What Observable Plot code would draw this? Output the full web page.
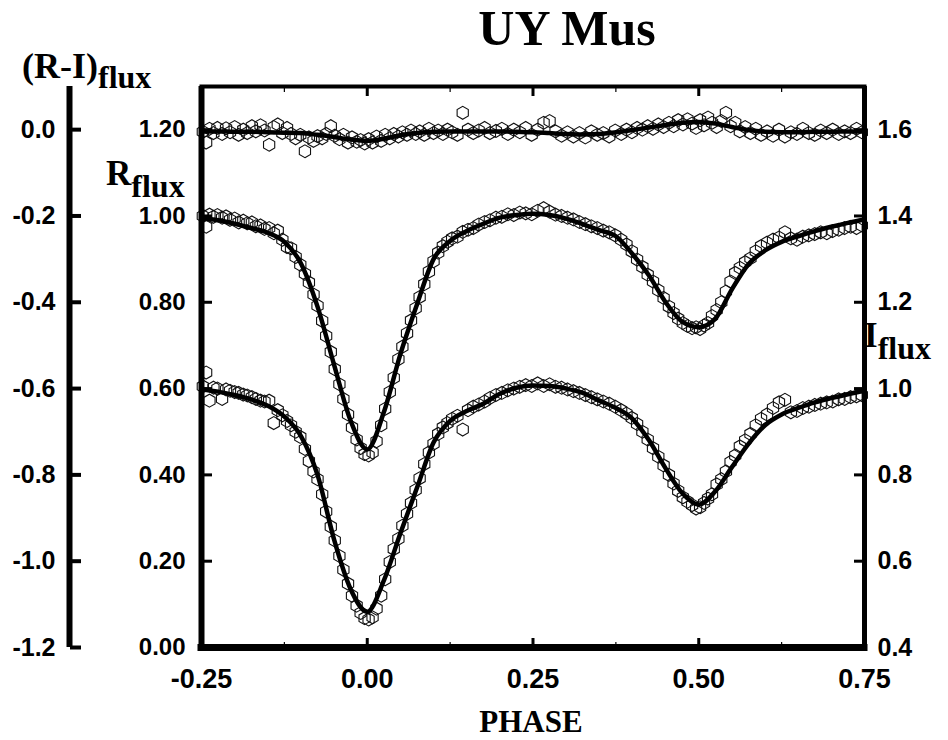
<!DOCTYPE html>
<html><head><meta charset="utf-8">
<script src="https://cdn.jsdelivr.net/npm/d3@7"></script>
<script src="https://cdn.jsdelivr.net/npm/@observablehq/plot@0.6"></script>
<style>body{margin:0;background:#fff}</style>
</head><body><div id="chart"></div>
<script>
// ---- observations (phase, R flux, I flux, R-I flux) ----
const phase = [
-0.248,-0.243,-0.238,-0.232,-0.226,-0.219,-0.213,-0.207,-0.200,-0.194,
-0.187,-0.181,-0.174,-0.168,-0.161,-0.155,-0.148,-0.141,-0.135,-0.128,
-0.121,-0.115,-0.108,-0.101,-0.094,-0.088,-0.081,-0.075,-0.068,-0.062,
-0.055,-0.049,-0.042,-0.036,-0.029,-0.023,-0.016,-0.010,-0.004,0.002,
0.008,0.014,0.021,0.027,0.034,0.040,0.047,0.053,0.060,0.066,
0.073,0.079,0.086,0.093,0.100,0.107,0.114,0.121,0.128,0.136,
0.144,0.152,0.160,0.168,0.177,0.185,0.194,0.203,0.212,0.221,
0.230,0.239,0.248,0.257,0.266,0.275,0.284,0.293,0.302,0.311,
0.320,0.329,0.338,0.347,0.356,0.365,0.374,0.383,0.391,0.399,
0.407,0.415,0.423,0.431,0.439,0.447,0.455,0.462,0.469,0.476,
0.483,0.490,0.496,0.502,0.508,0.514,0.520,0.527,0.534,0.541,
0.548,0.555,0.562,0.570,0.578,0.586,0.594,0.603,0.612,0.621,
0.630,0.639,0.648,0.657,0.666,0.675,0.684,0.693,0.702,0.711,
0.720,0.729,0.738,0.746];
const rObs = [
1.000,0.975,1.003,0.998,1.002,0.996,0.999,0.991,0.994,0.985,
0.989,0.983,0.985,0.976,0.978,0.970,0.972,0.960,0.966,0.945,
0.928,0.925,0.905,0.887,0.866,0.846,0.818,0.792,0.757,0.722,
0.685,0.645,0.610,0.576,0.540,0.510,0.482,0.462,0.448,0.445,
0.452,0.478,0.515,0.553,0.592,0.625,0.668,0.697,0.728,0.758,
0.786,0.812,0.842,0.871,0.895,0.915,0.930,0.940,0.948,0.952,
0.963,0.968,0.972,0.980,0.986,0.990,0.996,0.998,1.004,1.002,
1.008,1.006,1.004,1.012,1.018,1.010,1.003,1.000,0.996,0.992,
0.986,0.981,0.976,0.972,0.966,0.962,0.955,0.945,0.934,0.918,
0.899,0.882,0.864,0.848,0.828,0.810,0.790,0.775,0.762,0.752,
0.745,0.740,0.742,0.738,0.746,0.752,0.768,0.782,0.800,0.825,
0.848,0.868,0.880,0.893,0.902,0.918,0.930,0.938,0.945,0.950,
0.962,0.948,0.945,0.952,0.955,0.958,0.962,0.960,0.965,0.968,
0.972,0.975,0.972,0.978];
const iObs = [
1.005,1.037,0.972,1.002,1.000,0.976,0.998,0.995,0.992,0.990,
0.986,0.984,0.980,0.976,0.972,0.970,0.972,0.920,0.950,0.938,
0.925,0.915,0.900,0.888,0.860,0.832,0.808,0.790,0.755,0.715,
0.680,0.648,0.612,0.580,0.548,0.520,0.497,0.480,0.468,0.465,
0.470,0.490,0.520,0.558,0.598,0.628,0.652,0.682,0.710,0.735,
0.765,0.792,0.825,0.852,0.872,0.895,0.910,0.920,0.930,0.937,
0.905,0.950,0.958,0.963,0.970,0.978,0.985,0.990,0.996,1.000,
1.004,1.008,1.006,1.012,1.006,1.010,1.004,1.002,0.998,0.994,
0.990,0.985,0.980,0.975,0.970,0.965,0.958,0.950,0.942,0.932,
0.918,0.900,0.882,0.862,0.842,0.822,0.800,0.780,0.763,0.748,
0.738,0.730,0.722,0.725,0.735,0.745,0.755,0.778,0.790,0.808,
0.830,0.845,0.866,0.880,0.895,0.915,0.930,0.940,0.955,0.968,
0.974,0.945,0.948,0.955,0.958,0.962,0.965,0.968,0.970,0.975,
0.976,0.980,0.982,0.985];
const riObs = [
-0.005,-0.030,0.002,-0.008,0.004,-0.010,0.003,-0.006,0.006,-0.012,
0.000,-0.008,0.008,-0.004,0.010,-0.002,-0.035,0.006,0.012,-0.008,
0.004,-0.010,-0.020,-0.012,-0.050,-0.018,-0.026,-0.015,-0.020,-0.010,
0.008,-0.014,-0.022,-0.012,-0.030,-0.018,-0.028,-0.024,-0.032,-0.022,
-0.030,-0.016,-0.026,-0.012,-0.020,-0.010,-0.016,-0.006,-0.012,-0.002,
-0.010,-0.004,-0.012,0.002,-0.008,-0.002,-0.010,0.000,-0.006,-0.012,
0.039,0.000,-0.008,-0.002,0.004,-0.008,-0.003,0.002,-0.010,0.000,
-0.006,0.004,-0.012,0.000,0.016,0.020,-0.004,-0.014,-0.006,-0.016,
-0.008,-0.018,-0.004,-0.012,-0.008,-0.016,-0.002,-0.010,0.000,-0.006,
0.004,0.000,0.008,0.002,0.012,0.006,0.016,0.008,0.022,0.012,
0.024,0.014,0.004,0.022,0.010,0.028,0.016,0.006,0.020,0.039,
0.008,0.016,-0.004,0.006,-0.008,0.002,-0.012,-0.004,-0.014,0.000,
-0.016,-0.006,-0.010,0.002,-0.008,-0.012,-0.002,-0.008,0.000,-0.010,
-0.004,-0.008,0.002,-0.006];

// ---- fitted light curves ----
const fitPhase = [-0.250,-0.225,-0.200,-0.175,-0.150,-0.125,-0.100,-0.075,-0.050,-0.025,
0.000,0.025,0.050,0.075,0.100,0.125,0.150,0.175,0.200,0.225,
0.250,0.275,0.300,0.325,0.350,0.375,0.400,0.425,0.450,0.475,
0.500,0.525,0.550,0.575,0.600,0.625,0.650,0.675,0.700,0.725,0.750];
const rFit = [0.994,0.990,0.982,0.972,0.961,0.940,0.890,0.790,0.655,0.525,
0.459,0.545,0.680,0.795,0.900,0.942,0.965,0.982,0.996,1.002,
1.005,1.002,0.994,0.981,0.967,0.953,0.912,0.862,0.800,0.755,
0.742,0.762,0.830,0.888,0.920,0.940,0.953,0.965,0.975,0.984,0.992];
const iFit = [0.998,0.993,0.985,0.975,0.960,0.935,0.890,0.800,0.650,0.535,
0.483,0.555,0.665,0.770,0.875,0.925,0.948,0.965,0.988,1.002,
1.007,1.006,1.000,0.990,0.972,0.955,0.930,0.880,0.815,0.758,
0.731,0.762,0.818,0.872,0.915,0.940,0.955,0.968,0.978,0.987,0.995];
const riFit = [-0.004,-0.004,-0.005,-0.005,-0.006,-0.007,-0.008,-0.012,-0.017,-0.023,
-0.026,-0.021,-0.013,-0.008,-0.005,-0.004,-0.004,-0.004,-0.004,-0.005,
-0.006,-0.008,-0.010,-0.011,-0.010,-0.006,-0.001,0.005,0.011,0.016,
0.018,0.014,0.006,-0.001,-0.005,-0.006,-0.006,-0.005,-0.005,-0.004,-0.004];

// ---- ticks ----
const xMajor = [-0.25, 0, 0.25, 0.5, 0.75];
const xMinor = [-0.125, 0.125, 0.375, 0.625];
const rTicks = [0, 0.2, 0.4, 0.6, 0.8, 1.0, 1.2];
const iTicks = [0.4, 0.6, 0.8, 1.0, 1.2, 1.4, 1.6];
const riTicks = [-1.2, -1.0, -0.8, -0.6, -0.4, -0.2, 0.0];
const I_OFFSET = 0.4;   // I axis = R axis + 0.4
const RI_OFFSET = 1.2;  // (R-I) axis = R axis - 1.2

const obs = phase.map((p, i) => ({phase: p, R: rObs[i], I: iObs[i], RI: riObs[i]}));
const fit = fitPhase.map((p, i) => ({phase: p, R: rFit[i], I: iFit[i], RI: riFit[i]}));

const W = 663, H = 561, OUT = 132;
const dotOpts = {x: "phase", symbol: "hexagon", r: 5.6, stroke: "#111", strokeWidth: 1.1, fill: "none"};
const lineOpts = {x: "phase", stroke: "black", strokeWidth: 4.5, curve: "monotone-x"};
const blank = () => "";

const chart = Plot.plot({
  width: 948, height: 740,
  marginLeft: 201, marginRight: 84, marginTop: 86, marginBottom: 93,
  x: {domain: [-0.25, 0.75], label: null},
  y: {domain: [0, 1.3], label: null},
  style: {background: "white", color: "black", fontFamily: "'Liberation Sans', Arial, sans-serif", fontWeight: "bold", overflow: "visible"},
  marks: [
    Plot.dot(obs, {...dotOpts, y: "R"}),
    Plot.dot(obs, {...dotOpts, y: d => d.I - I_OFFSET}),
    Plot.dot(obs, {...dotOpts, y: d => d.RI + RI_OFFSET}),
    Plot.line(fit, {...lineOpts, y: "R"}),
    Plot.line(fit, {...lineOpts, y: d => d.I - I_OFFSET}),
    Plot.line(fit, {...lineOpts, y: d => d.RI + RI_OFFSET}),
    Plot.frame({strokeWidth: 4}),
    Plot.ruleX([-0.25], {strokeWidth: 6}),
    Plot.ruleX([0.75], {strokeWidth: 5}),
    Plot.ruleY([0], {strokeWidth: 7, strokeLinecap: "square"}),
    Plot.ruleX([-0.25], {dx: -OUT, strokeWidth: 6}),
    // x axis
    Plot.axisX(xMajor, {anchor: "bottom", tickSize: 0, tickPadding: 21, tickFormat: d => d.toFixed(2), fontSize: 27, label: null}),
    Plot.axisX(xMajor, {anchor: "top", dy: H, tickSize: 10, strokeWidth: 3, tickFormat: blank, label: null}),
    Plot.axisX(xMinor, {anchor: "top", dy: H, tickSize: 6, strokeWidth: 1.2, tickFormat: blank, label: null}),
    Plot.axisX(xMajor, {anchor: "bottom", dy: -H, tickSize: 10, strokeWidth: 3, tickFormat: blank, label: null}),
    Plot.axisX(xMinor, {anchor: "bottom", dy: -H, tickSize: 6, strokeWidth: 1.2, tickFormat: blank, label: null}),
    // R axis (inner left)
    Plot.axisY(rTicks, {anchor: "left", tickSize: 0, tickPadding: 16, tickFormat: d => d.toFixed(2), fontSize: 24, label: null}),
    Plot.axisY(rTicks, {anchor: "right", dx: -W, tickSize: 10, strokeWidth: 3, tickFormat: blank, label: null}),
    // I axis (right)
    Plot.axisY(iTicks.map(v => v - I_OFFSET), {anchor: "right", tickSize: 0, tickPadding: 13, tickFormat: d => (d + I_OFFSET).toFixed(1), fontSize: 25, label: null}),
    Plot.axisY(iTicks.map(v => v - I_OFFSET), {anchor: "left", dx: W, tickSize: 10, strokeWidth: 3, tickFormat: blank, label: null}),
    // R-I axis (outer left)
    Plot.axisY(riTicks.map(v => v + RI_OFFSET), {anchor: "left", dx: -OUT, tickSize: 0, tickPadding: 14, tickFormat: d => (d - RI_OFFSET).toFixed(1), fontSize: 25, label: null}),
    Plot.axisY(riTicks.map(v => v + RI_OFFSET), {anchor: "right", dx: -(W + OUT), tickSize: 11, strokeWidth: 4, tickFormat: blank, label: null})
  ]
});
document.getElementById("chart").appendChild(chart);

// titles
const svg = d3.select(chart);
const serif = "'Liberation Serif', 'Times New Roman', serif";
function label(x, y, main, sub, size, subSize, subDy, anchor) {
  const t = svg.append("text").attr("x", x).attr("y", y)
    .attr("font-family", serif).attr("font-weight", "bold").attr("font-size", size)
    .attr("fill", "black").attr("text-anchor", anchor || "start");
  t.append("tspan").text(main);
  if (sub) t.append("tspan").attr("font-size", subSize).attr("dy", subDy).text(sub);
  return t;
}
label(567, 45, "UY Mus", null, 50, 0, 0, "middle");
label(22, 78, "(R-I)", "flux", 36, 32, 10);
label(106, 185, "R", "flux", 35, 32, 12);
label(864, 347, "I", "flux", 35, 32, 12);
label(531, 732, "PHASE", null, 31, 0, 0, "middle");
</script></body></html>
